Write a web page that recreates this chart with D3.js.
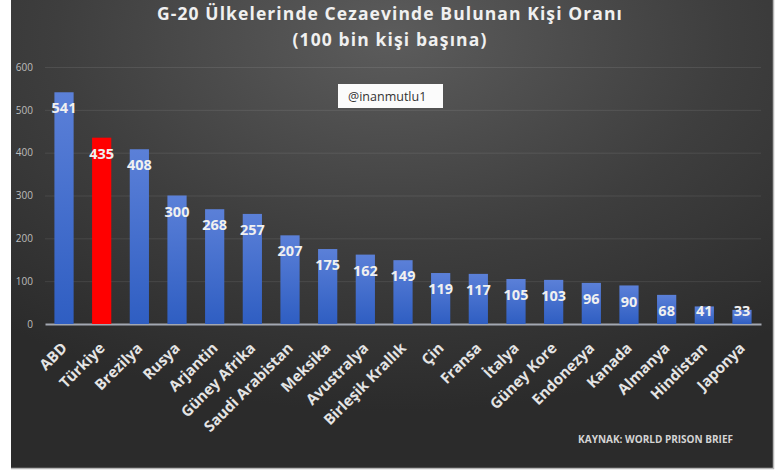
<!DOCTYPE html>
<html>
<head>
<meta charset="utf-8">
<script src="https://cdn.jsdelivr.net/npm/d3@7"></script>
<style>
  body { margin: 0; background: #ffffff; }
  svg { display: block; }
</style>
</head>
<body>
<div id="chart"></div>
<script>
'use strict';

// veri
var countries = ["ABD", "Türkiye", "Brezilya", "Rusya", "Arjantin", "Güney Afrika",
  "Saudi Arabistan", "Meksika", "Avustralya", "Birleşik Krallık", "Çin", "Fransa",
  "İtalya", "Güney Kore", "Endonezya", "Kanada", "Almanya", "Hindistan", "Japonya"];
var rates = [541, 435, 408, 300, 268, 257, 207, 175, 162, 149, 119, 117, 105, 103, 96, 90, 68, 41, 33];
var yTicks = [0, 100, 200, 300, 400, 500, 600];
var highlight = "Türkiye";
var titleLines = ["G-20 Ülkelerinde Cezaevinde Bulunan Kişi Oranı", "(100 bin kişi başına)"];
var watermark = "@inanmutlu1";
var source = "KAYNAK: WORLD PRISON BRIEF";

function barChart(){
    var scope = {};
    var exports = {};

    scope.cw = 779;
    scope.ch = 473;
    scope.plot = {left: 45, right: 761, top: 67, bottom: 324};
    scope.font = "'Open Sans', 'DejaVu Sans', sans-serif";
    scope.xScale = undefined;
    scope.yScale = undefined;

    scope.appendSvg = function(div)
    {
        return d3.select(div).append("svg")
            .attr("width", scope.cw)
            .attr("height", scope.ch);
    }

    // harf aralığını açarak yazıyı hedef genişliğe getirir
    scope.spreadTo = function(sel, width)
    {
        var w = sel.node().getComputedTextLength();
        var n = sel.text().length;
        if (w > 0 && w < width) sel.style("letter-spacing", ((width - w) / n).toFixed(2) + "px");
    }

    scope.appendBackground = function(svg)
    {
        var defs = svg.append("defs");
        var bg = defs.append("radialGradient")
            .attr("id", "bg")
            .attr("cx", "50%").attr("cy", "8%").attr("r", "80%")
            .attr("fx", "50%").attr("fy", "8%");
        bg.append("stop").attr("offset", "0%").attr("stop-color", "#5c5c5c");
        bg.append("stop").attr("offset", "55%").attr("stop-color", "#3e3e3e");
        bg.append("stop").attr("offset", "100%").attr("stop-color", "#2b2b2b");

        var blue = defs.append("linearGradient")
            .attr("id", "blue")
            .attr("x1", 0).attr("y1", 0).attr("x2", 0).attr("y2", 1);
        blue.append("stop").attr("offset", "0%").attr("stop-color", "#5b80d8");
        blue.append("stop").attr("offset", "100%").attr("stop-color", "#2f5ec2");

        svg.append("rect")
            .attr("x", 11).attr("y", 0)
            .attr("width", 762).attr("height", 468)
            .attr("fill", "url(#bg)");

        svg.append("path")
            .attr("d", "M11,468.5H773.5V0")
            .attr("fill", "none")
            .attr("stroke", "#b5b5b5")
            .attr("stroke-width", 1.5);
    }

    scope.createScales = function()
    {
        scope.xScale = d3.scaleBand()
            .domain(countries)
            .range([scope.plot.left, scope.plot.right])
            .paddingInner(0.49)
            .paddingOuter(0.25);

        scope.yScale = d3.scaleLinear()
            .domain([0, 600])
            .range([scope.plot.bottom, scope.plot.top]);
    }

    scope.appendAxes = function(svg)
    {
        var yAxis = d3.axisLeft(scope.yScale)
            .tickValues(yTicks)
            .tickSize(-(scope.plot.right - scope.plot.left))
            .tickPadding(12);

        var gy = svg.append("g")
            .attr("transform", "translate(" + scope.plot.left + ",0)")
            .call(yAxis);
        gy.select(".domain").remove();
        gy.selectAll("line")
            .attr("stroke", "#ffffff")
            .attr("stroke-opacity", function(d) { return d === 0 ? 0 : 0.09; });
        gy.selectAll("text")
            .attr("fill", "#bdbdbd")
            .style("font-family", scope.font)
            .style("font-size", "10px");

        var xAxis = d3.axisBottom(scope.xScale)
            .tickSize(0)
            .tickSizeOuter(0);

        var gx = svg.append("g")
            .attr("transform", "translate(0," + scope.plot.bottom + ")")
            .call(xAxis);
        gx.select(".domain")
            .attr("stroke", "#a3a8b2")
            .attr("stroke-width", 2);
        gx.selectAll("text")
            .attr("x", 0).attr("y", 0).attr("dy", 0)
            .attr("transform", "translate(4,25) rotate(-45)")
            .attr("text-anchor", "end")
            .attr("fill", "#e4e4e4")
            .style("font-family", scope.font)
            .style("font-weight", "bold")
            .style("font-size", "15px");
    }

    scope.appendBars = function(svg)
    {
        var g = svg.append("g");

        g.selectAll("rect")
            .data(countries)
            .enter().append("rect")
            .attr("x", function(d) { return scope.xScale(d); })
            .attr("width", scope.xScale.bandwidth())
            .attr("y", function(d, i) { return scope.yScale(rates[i]); })
            .attr("height", function(d, i) { return scope.yScale(0) - scope.yScale(rates[i]); })
            .attr("fill", function(d) { return d === highlight ? "#ff0000" : "url(#blue)"; });

        g.selectAll("text")
            .data(countries)
            .enter().append("text")
            .attr("x", function(d) { return scope.xScale(d) + scope.xScale.bandwidth() / 2; })
            .attr("y", function(d, i) { return Math.min(scope.yScale(rates[i]) + 16, 311); })
            .attr("dy", "0.35em")
            .attr("text-anchor", "middle")
            .attr("fill", "#f0f0f0")
            .style("font-family", scope.font)
            .style("font-weight", "bold")
            .style("font-size", "14.5px")
            .text(function(d, i) { return rates[i]; });
    }

    scope.appendTexts = function(svg)
    {
        var widths = [466, 195];
        svg.selectAll(".title")
            .data(titleLines)
            .enter().append("text")
            .attr("class", "title")
            .attr("x", 390)
            .attr("y", function(d, i) { return 19.5 + i * 26; })
            .attr("text-anchor", "middle")
            .attr("fill", "#f0f0f0")
            .style("font-family", scope.font)
            .style("font-weight", "bold")
            .style("font-size", "17.5px")
            .text(function(d) { return d; })
            .each(function(d, i) { scope.spreadTo(d3.select(this), widths[i]); });

        svg.append("rect")
            .attr("x", 338).attr("y", 84)
            .attr("width", 105).attr("height", 24)
            .attr("fill", "#fbfbfb");

        svg.append("text")
            .attr("x", 348).attr("y", 100.5)
            .attr("fill", "#333333")
            .style("font-family", scope.font)
            .style("font-size", "12.5px")
            .text(watermark);

        var src = svg.append("text")
            .attr("x", 733).attr("y", 443)
            .attr("text-anchor", "end")
            .attr("fill", "#d4d4d4")
            .style("font-family", scope.font)
            .style("font-weight", "bold")
            .style("font-size", "10px")
            .text(source);
        scope.spreadTo(src, 153);
    }

    exports.run = function(div)
    {
        var svg = scope.appendSvg(div);
        scope.appendBackground(svg);
        scope.createScales();
        scope.appendAxes(svg);
        scope.appendBars(svg);
        scope.appendTexts(svg);
    }

    return exports;
}

barChart().run("#chart");
</script>
</body>
</html>
